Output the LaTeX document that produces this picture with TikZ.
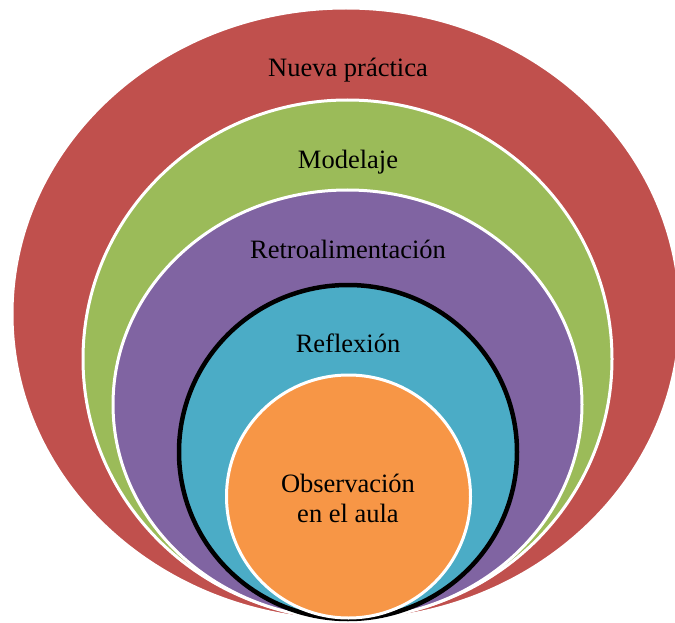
\documentclass[tikz,border=0pt]{standalone}
\usepackage{fontspec}
\setmainfont{Liberation Serif}
\definecolor{nuevared}{HTML}{C0504D}
\definecolor{modelgreen}{HTML}{9BBB59}
\definecolor{retropurple}{HTML}{8064A2}
\definecolor{reflexblue}{HTML}{4BACC6}
\definecolor{obsorange}{HTML}{F79646}
\begin{document}
\begin{tikzpicture}[x=1pt, y=-1pt]
			\tikzstyle{every node}=[inner sep=1pt, align=center, anchor=base, font=\fontsize{26.5}{30}\selectfont]
			\tikzstyle{ring}=[draw=white, line width=3pt]
			\useasboundingbox (0, 0) rectangle (675, 623);
			\draw [ring, fill=nuevared] (346, 314) ellipse [x radius=334, y radius=306];
			\draw [ring, fill=modelgreen] (347.5, 359) ellipse [x radius=264.5, y radius=259];
			\draw [ring, fill=retropurple] (347.5, 404.5) ellipse [x radius=234.5, y radius=214.5];
			\draw [draw=black, line width=4.5pt, fill=reflexblue] (348, 452) ellipse [x radius=169, y radius=167];
			\draw [ring, fill=obsorange] (348.5, 496.5) ellipse [x radius=122, y radius=121.5];
			\node (nueva) at (348, 77) {Nueva práctica};
			\node (modelaje) at (348, 168) {Modelaje};
			\node (retro) at (348, 258) {Retroalimentación};
			\node (reflexion) at (348, 352) {Reflexión};
			\node (obs) at (348, 522) {Observación\\en el aula};
	\end{tikzpicture}
\end{document}
